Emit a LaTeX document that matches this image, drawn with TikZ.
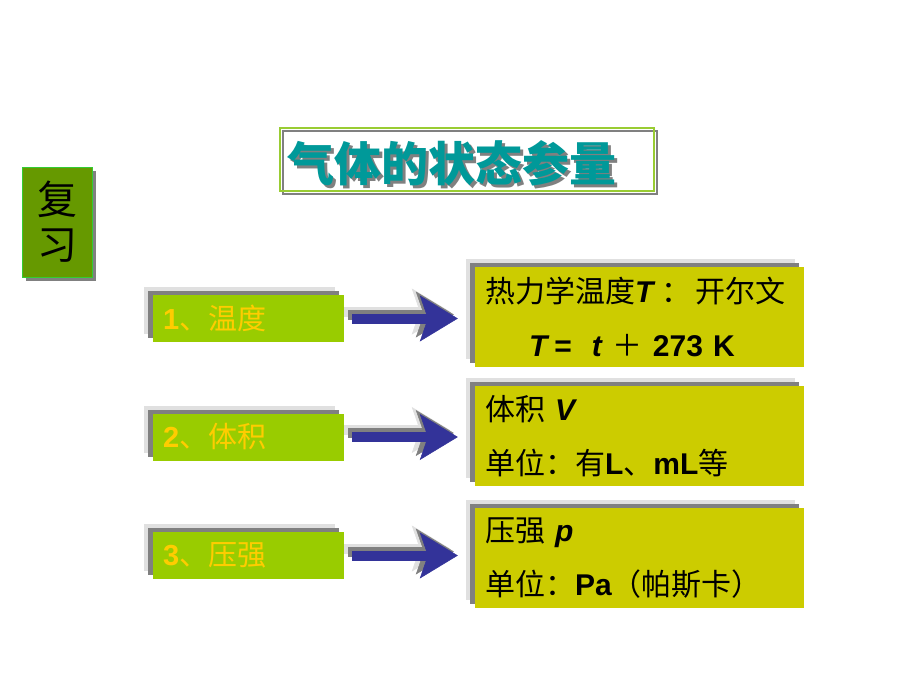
\documentclass[tikz,border=0pt]{standalone}
\usepackage{fontspec}
\setmainfont{Liberation Sans}
\newfontfamily\cjk{Noto Sans CJK SC}
\usetikzlibrary{positioning}
\usetikzlibrary{arrows.meta}
\usetikzlibrary{shadows}

\definecolor{titleteal}{RGB}{0,153,153}
\definecolor{titlegreen}{RGB}{153,204,51}
\definecolor{shadegray}{RGB}{128,128,128}
\definecolor{shadelight}{RGB}{224,224,224}
\definecolor{revfill}{RGB}{102,153,0}
\definecolor{revborder}{RGB}{51,204,51}
\definecolor{itemgreen}{RGB}{153,204,0}
\definecolor{itemtext}{RGB}{255,204,0}
\definecolor{infoyellow}{RGB}{204,204,0}
\definecolor{arrowblue}{RGB}{51,51,153}

\newcommand{\bi}[1]{\textbf{\textit{#1}}}
% text with a gray copy below right
\newcommand{\shadetext}[1]{\makebox[0pt][l]{\hspace{3pt}\raisebox{-3pt}{\textcolor{shadegray}{#1}}}#1}

\begin{document}
\begin{tikzpicture}[x=1pt,y=-1pt]
	\tikzstyle{layered} = [general shadow={fill=shadelight,shadow xshift=-9pt,shadow yshift=8pt},
		general shadow={fill=shadegray,shadow xshift=-5pt,shadow yshift=4pt}]
	\tikzstyle{item} = [layered,fill=itemgreen,minimum width=191pt,minimum height=47pt,
		text width=171pt,align=left,inner xsep=10pt,inner ysep=0pt,text=itemtext,
		font=\fontsize{29pt}{32pt}\selectfont]
	\tikzstyle{info} = [layered,fill=infoyellow,minimum width=329pt,minimum height=100pt,
		text width=309pt,align=left,inner xsep=10pt,inner ysep=0pt,
		font=\fontsize{30pt}{54pt}\selectfont]
	\tikzstyle{pointer} = [draw=arrowblue,line width=10pt,
		-{Stealth[length=38pt,width=46pt,inset=8pt,line width=0.5pt]}]

	\path[use as bounding box,fill=white] (0,0) rectangle (920,690);

	% title
	\node[draw=titlegreen,line width=1.5pt,minimum width=374pt,minimum height=63pt,
		general shadow={draw=shadegray,shadow xshift=3pt,shadow yshift=-3pt}]
		at (467,159.5) (titlebox) {};
	\node[text=titleteal,font=\cjk\bfseries\fontsize{47pt}{50pt}\selectfont] at (451.5,164.5) (title) {\shadetext{气体的状态参量}};

	% review tag
	\node[draw=revborder,fill=revfill,line width=1pt,minimum width=70pt,minimum height=110pt,
		general shadow={fill=shadegray,shadow xshift=4pt,shadow yshift=-4pt},
		align=center,font=\cjk\fontsize{40pt}{45pt}\selectfont] at (57,222) (review) {复\\习};

	% left column
	\node[item] at (248.5,318.5) (item1) {\textbf{1}{\cjk 、温度}};
	\node[item] at (248.5,437) (item2) {\textbf{2}{\cjk 、体积}};
	\node[item] at (248.5,555.5) (item3) {\textbf{3}{\cjk 、压强}};

	% right column
	\node[info] at (639.5,317) (info1) {{\cjk 热力学温度}\bi{T}\hspace{6pt}{\cjk ：}\hspace{4pt}{\cjk 开尔文}\\
		\hspace*{44pt}\bi{T}\,\textbf{=}\ \ \bi{t}\ {\cjk ＋}\ \textbf{273 K}};
	\node[info] at (639.5,436) (info2) {{\cjk 体积}\ \bi{V}\\
		{\cjk 单位：有}\textbf{L}{\cjk 、}\textbf{mL}{\cjk 等}};
	\node[info] at (639.5,558) (info3) {{\cjk 压强}\ \bi{p}\\
		{\cjk 单位：}\textbf{Pa}{\cjk （帕斯卡）}};

	% arrows with their shadows
	\foreach \i in {1,2,3} {
		\draw[pointer,draw=shadelight,transform canvas={xshift=-8pt,yshift=7pt}]
			([xshift=8pt]item\i.east) -- ([xshift=-17pt]info\i.west |- item\i.east);
		\draw[pointer,draw=shadegray,transform canvas={xshift=-4pt,yshift=4pt}]
			([xshift=8pt]item\i.east) -- ([xshift=-17pt]info\i.west |- item\i.east);
		\draw[pointer] ([xshift=8pt]item\i.east) -- ([xshift=-17pt]info\i.west |- item\i.east);
	}
\end{tikzpicture}
\end{document}
